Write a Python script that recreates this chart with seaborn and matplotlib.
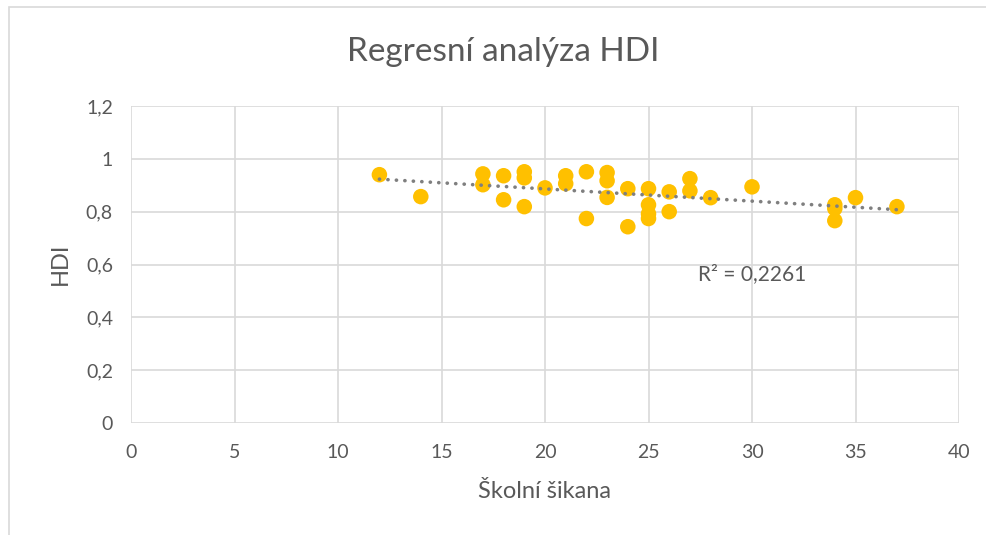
import matplotlib
matplotlib.use("Agg")
import matplotlib.pyplot as plt
import seaborn as sns
import pandas as pd
import numpy as np
from matplotlib.patches import Rectangle

skolni_sikana = [12, 14, 17, 17, 18, 18, 19, 19, 19, 20, 21, 21, 22, 22,
                 23, 23, 23, 24, 24, 25, 25, 25, 25, 26, 26, 27, 27, 28,
                 30, 34, 34, 34, 35, 37]
hdi = [0.940, 0.857, 0.943, 0.902, 0.936, 0.845, 0.951, 0.928, 0.819, 0.890,
       0.936, 0.906, 0.951, 0.774, 0.948, 0.917, 0.854, 0.887, 0.743, 0.887,
       0.826, 0.792, 0.774, 0.875, 0.800, 0.925, 0.879, 0.853, 0.894, 0.826,
       0.812, 0.766, 0.853, 0.819]
x_ticks = [0, 5, 10, 15, 20, 25, 30, 35, 40]
y_ticks = [0, 0.2, 0.4, 0.6, 0.8, 1.0, 1.2]
y_tick_labels = ["0", "0,2", "0,4", "0,6", "0,8", "1", "1,2"]
r2_label = "R² = 0,2261"

df = pd.DataFrame({"Školní šikana": skolni_sikana, "HDI": hdi})

sns.set_theme(style="white")
plt.rcParams['font.family'] = ['Lato', 'DejaVu Sans']

fig = plt.figure(figsize=(9.87, 5.35), dpi=100)
ax = fig.add_axes([131/987, 1-423/535, (959-131)/987, (423-106)/535])

fig.patches.append(Rectangle((9/987, -0.05), 1, 1.05-7/535, transform=fig.transFigure,
                             fill=False, edgecolor="#D9D9D9", linewidth=1.2))

sns.regplot(data=df, x="Školní šikana", y="HDI", ax=ax, scatter=False, ci=None,
            line_kws=dict(color="#7F7F7F", linewidth=2.6,
                          linestyle=(0, (0.05, 2.3)), dash_capstyle="round", zorder=3))
sns.scatterplot(data=df, x="Školní šikana", y="HDI", ax=ax, color="#FFC000",
                s=125, edgecolor="none", zorder=2)

ax.set_xlim(0, 40)
ax.set_ylim(0, 1.2)
ax.set_xticks(x_ticks)
ax.set_yticks(y_ticks)
ax.set_yticklabels(y_tick_labels)
ax.grid(True, color="#D9D9D9", linewidth=1.2, zorder=0)
ax.set_axisbelow(True)
for s in ax.spines.values():
    s.set_visible(False)
ax.tick_params(axis="both", length=0, labelsize=14, colors="#595959")
ax.tick_params(axis="x", pad=15)
ax.tick_params(axis="y", pad=13)

ax.set_xlabel("Školní šikana", fontsize=17, color="#595959", va="center")
ax.xaxis.set_label_coords((544-131)/828, (423-492)/317)
ax.set_ylabel("HDI", fontsize=17, color="#595959", va="center")
ax.yaxis.set_label_coords((60-131)/828, (423-264)/317)
fig.text(503/987, 1-52/535, "Regresní analýza HDI", fontsize=24, color="#595959",
         ha="center", va="center")
ax.text(30.0, 0.565, r2_label, fontsize=15, color="#595959", ha="center", va="center")

fig.savefig("out.png", dpi=100)
